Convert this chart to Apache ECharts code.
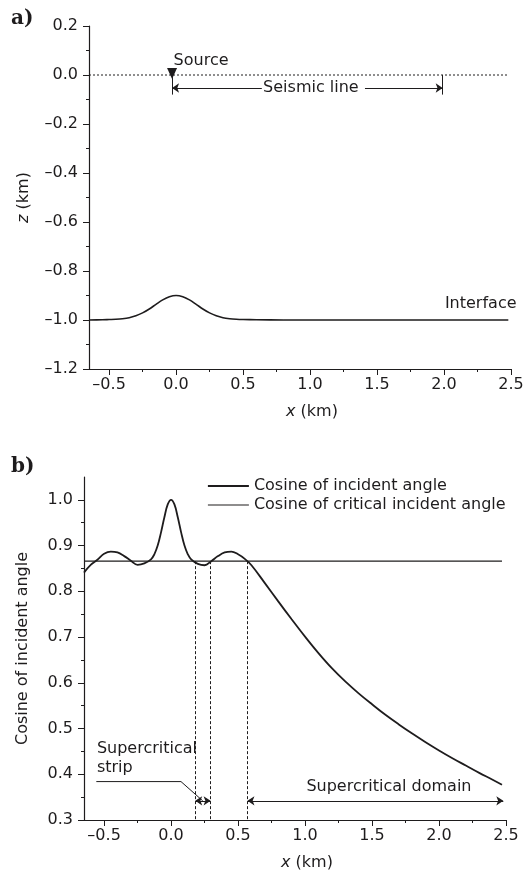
<!DOCTYPE html>
<html>
<head>
<meta charset="utf-8">
<script src="https://cdn.jsdelivr.net/npm/echarts@6/dist/echarts.min.js"></script>
<style>
  html, body { margin: 0; padding: 0; background: #fff; }
  #main { width: 532px; height: 876px; }
</style>
</head>
<body>
<div id="main"></div>
<script>
// ---------- shared horizontal axis (km) ----------
const xMin = -0.65;
const xMax = 2.5;
const xMajorTicks = [-0.5, 0, 0.5, 1.0, 1.5, 2.0, 2.5];
const xMinorTicks = [-0.25, 0.25, 0.75, 1.25, 1.75, 2.25];

// ---------- panel a: model geometry ----------
const zMajorTicks = [-1.2, -1.0, -0.8, -0.6, -0.4, -0.2, 0.0, 0.2];
const zMinorTicks = [-1.1, -0.9, -0.7, -0.5, -0.3, -0.1, 0.1];

const interfaceX = [-0.65, -0.55, -0.5, -0.45, -0.4, -0.35, -0.3, -0.25, -0.2, -0.15, -0.1, -0.05, 0.0,
                    0.05, 0.1, 0.15, 0.2, 0.25, 0.3, 0.35, 0.4, 0.45, 0.5, 0.6, 0.8, 1.2, 1.6, 2.0, 2.48];
const interfaceZ = [-1.0, -0.999, -0.998, -0.997, -0.995, -0.991, -0.983, -0.971, -0.955, -0.936, -0.918, -0.905, -0.900,
                    -0.905, -0.918, -0.936, -0.955, -0.971, -0.983, -0.991, -0.995, -0.997, -0.998, -0.999, -1.0, -1.0, -1.0, -1.0, -1.0];

const surfaceX = [-0.65, 2.48];
const surfaceZ = [0.0, 0.0];

const sourceX = -0.03;
const sourceMarkZ = 0.006;
const lineEndX = 1.99;
const barBottomZ = -0.08;
const spreadArrowZ = -0.053;
const spreadTextGap = [0.64, 1.41];

const labelsA = ['Source', 'Seismic line', 'Interface'];
const labelsAX = [-0.015, 1.01, 2.545];
const labelsAZ = [0.057, -0.053, -0.935];

// ---------- panel b: incidence along the line ----------
const cosMajorTicks = [0.3, 0.4, 0.5, 0.6, 0.7, 0.8, 0.9, 1.0];
const cosMinorTicks = [0.35, 0.45, 0.55, 0.65, 0.75, 0.85, 0.95];

const incidentX = [-0.65, -0.6, -0.55, -0.5, -0.45, -0.4, -0.35, -0.3, -0.25, -0.2, -0.15, -0.125, -0.1, -0.075, -0.05, -0.025, 0.0,
                   0.025, 0.05, 0.075, 0.1, 0.125, 0.15, 0.2, 0.25, 0.3, 0.35, 0.4, 0.45, 0.5, 0.55, 0.6, 0.7, 0.8, 0.9, 1.0,
                   1.1, 1.2, 1.3, 1.4, 1.5, 1.6, 1.7, 1.8, 1.9, 2.0, 2.1, 2.2, 2.3, 2.4, 2.47];
const incidentCos = [0.841, 0.858, 0.869, 0.882, 0.887, 0.885, 0.877, 0.867, 0.858, 0.861, 0.870, 0.881, 0.900, 0.929, 0.962, 0.990, 1.0,
                     0.990, 0.962, 0.929, 0.900, 0.881, 0.870, 0.860, 0.857, 0.866, 0.877, 0.885, 0.887, 0.881, 0.871, 0.857, 0.818, 0.778, 0.739, 0.701,
                     0.665, 0.632, 0.603, 0.577, 0.553, 0.530, 0.509, 0.489, 0.470, 0.452, 0.435, 0.419, 0.403, 0.388, 0.377];

const criticalX = [-0.65, 2.47];
const criticalCos = [0.866, 0.866];

const stripBounds = [0.18, 0.295];
const domainBounds = [0.57, 2.48];
const boundTopCos = 0.866;
const arrowCos = 0.342;
const leaderX = [-0.558, 0.074, 0.236];
const leaderCos = [0.384, 0.384, 0.342];

const labelsB = ['Supercritical', 'strip', 'Supercritical domain'];
const labelsBX = [-0.55, -0.55, 1.63];
const labelsBCos = [0.455, 0.412, 0.372];

// ---------- styling ----------
const FONT = 'DejaVu Sans';
const INK = '#1e1c1d';
const FS = 16;
const BOLD_W = 1.8;
const THIN_W = 1.1;

const zip = (xs, ys) => xs.map((x, i) => [x, ys[i]]);
const fmt = v => (v < -1e-9 ? '\u2013' : '') + Math.abs(v).toFixed(1);
const txt = { fontFamily: FONT, fontSize: FS, color: INK };

function mainX(grid, name) {
  return {
    type: 'value', gridIndex: grid, position: 'bottom', min: xMin, max: xMax,
    axisLine: { show: true, onZero: false, lineStyle: { color: INK, width: 1.2 } },
    axisTick: { show: true, length: 6, customValues: xMajorTicks, lineStyle: { color: INK, width: 1 } },
    axisLabel: Object.assign({ customValues: xMajorTicks, formatter: fmt, margin: 8 }, txt),
    splitLine: { show: false },
    name: name, nameLocation: 'middle', nameGap: 35,
    nameTextStyle: Object.assign({ padding: [0, 0, 0, 24],
      rich: { i: Object.assign({ fontStyle: 'italic' }, txt) } }, txt)
  };
}
function minorX(grid) {
  return {
    type: 'value', gridIndex: grid, position: 'bottom', min: xMin, max: xMax,
    axisLine: { show: false, onZero: false },
    axisTick: { show: true, length: 3, customValues: xMinorTicks, lineStyle: { color: INK, width: 1 } },
    axisLabel: { show: false }, splitLine: { show: false }
  };
}
function mainY(grid, min, max, major, name, gap) {
  return {
    type: 'value', gridIndex: grid, position: 'left', min: min, max: max,
    axisLine: { show: true, onZero: false, lineStyle: { color: INK, width: 1.2 } },
    axisTick: { show: true, length: 6, customValues: major, lineStyle: { color: INK, width: 1 } },
    axisLabel: Object.assign({ customValues: major, formatter: fmt, margin: 11 }, txt),
    splitLine: { show: false },
    name: name, nameLocation: 'middle', nameGap: gap, nameRotate: 90,
    nameTextStyle: Object.assign({ rich: { i: Object.assign({ fontStyle: 'italic' }, txt) } }, txt)
  };
}
function minorY(grid, min, max, minor) {
  return {
    type: 'value', gridIndex: grid, position: 'left', min: min, max: max,
    axisLine: { show: false, onZero: false },
    axisTick: { show: true, length: 3, customValues: minor, lineStyle: { color: INK, width: 1 } },
    axisLabel: { show: false }, splitLine: { show: false }
  };
}

const thin = { color: INK, width: 1, type: 'solid' };
function seg(x1, y1, x2, y2, s1, s2) {
  return [{ coord: [x1, y1], symbol: s1 || 'none' }, { coord: [x2, y2], symbol: s2 || 'none' }];
}
function textSeries(xi, yi, names, xs, ys, aligns) {
  return {
    type: 'scatter', xAxisIndex: xi, yAxisIndex: yi, symbolSize: 1, silent: true, clip: false,
    itemStyle: { color: 'rgba(0,0,0,0)', opacity: 1 },
    data: names.map((n, i) => ({
      value: [xs[i], ys[i]], name: n,
      label: { show: true, position: [0, 0], align: aligns[i], verticalAlign: 'middle',
               formatter: n, fontFamily: FONT, fontSize: FS, color: INK }
    }))
  };
}

const chart = echarts.init(document.getElementById('main'), null, { renderer: 'canvas' });
chart.setOption({
  animation: false,
  backgroundColor: '#ffffff',
  grid: [
    { left: 89, top: 26, width: 422, height: 343 },
    { left: 84, top: 477, width: 422, height: 343 }
  ],
  xAxis: [mainX(0, '{i|x} (km)'), minorX(0), mainX(1, '{i|x} (km)'), minorX(1)],
  yAxis: [
    mainY(0, -1.2, 0.2, zMajorTicks, '{i|z} (km)', 57), minorY(0, -1.2, 0.2, zMinorTicks),
    mainY(1, 0.3, 1.05, cosMajorTicks, 'Cosine of incident angle', 53), minorY(1, 0.3, 1.05, cosMinorTicks)
  ],
  legend: {
    left: 202, top: 473, orient: 'vertical', itemWidth: 41, itemHeight: 12, itemGap: 3,
    selectedMode: false, textStyle: txt,
    itemStyle: { opacity: 0, borderWidth: 0 },
    data: [
      { name: 'Cosine of incident angle', lineStyle: { width: BOLD_W, color: INK } },
      { name: 'Cosine of critical incident angle', lineStyle: { width: THIN_W, color: INK } }
    ]
  },
  graphic: [
    { type: 'text', left: 11, top: 9, style: { text: 'a)', font: 'bold 20px "DejaVu Serif"', fill: INK } },
    { type: 'text', left: 11, top: 457, style: { text: 'b)', font: 'bold 20px "DejaVu Serif"', fill: INK } }
  ],
  series: [
    // panel a
    { name: 'Interface', type: 'line', xAxisIndex: 0, yAxisIndex: 0, data: zip(interfaceX, interfaceZ),
      symbol: 'none', smooth: 0.3, lineStyle: { color: INK, width: 1.6 } },
    { name: 'Surface', type: 'line', xAxisIndex: 0, yAxisIndex: 0, data: zip(surfaceX, surfaceZ),
      symbol: 'none', lineStyle: { color: INK, width: 1, type: [2, 2] } },
    { name: 'Seismic line', type: 'line', xAxisIndex: 0, yAxisIndex: 0, data: [],
      markLine: { silent: true, animation: false, symbolSize: 7, label: { show: false }, lineStyle: thin,
        data: [
          seg(sourceX, 0, sourceX, barBottomZ),
          seg(lineEndX, 0, lineEndX, barBottomZ),
          seg(spreadTextGap[0], spreadArrowZ, sourceX, spreadArrowZ, 'none', 'arrow'),
          seg(spreadTextGap[1], spreadArrowZ, lineEndX, spreadArrowZ, 'none', 'arrow')
        ] } },
    { name: 'Source', type: 'scatter', xAxisIndex: 0, yAxisIndex: 0, data: [[sourceX, sourceMarkZ]],
      symbol: 'triangle', symbolRotate: 180, symbolSize: [10, 11],
      itemStyle: { color: INK, opacity: 1 }, silent: true },
    textSeries(0, 0, labelsA, labelsAX, labelsAZ, ['left', 'center', 'right']),

    // panel b
    { name: 'Cosine of incident angle', type: 'line', xAxisIndex: 2, yAxisIndex: 2,
      data: zip(incidentX, incidentCos), symbol: 'none', smooth: 0.4,
      lineStyle: { color: INK, width: BOLD_W }, itemStyle: { color: INK } },
    { name: 'Cosine of critical incident angle', type: 'line', xAxisIndex: 2, yAxisIndex: 2,
      data: zip(criticalX, criticalCos), symbol: 'none',
      lineStyle: { color: INK, width: THIN_W }, itemStyle: { color: INK } },
    { name: 'Bounds', type: 'line', xAxisIndex: 2, yAxisIndex: 2, data: [],
      markLine: { silent: true, animation: false, symbolSize: 7, label: { show: false },
        lineStyle: { color: INK, width: 1, type: [3, 2] },
        data: [
          seg(stripBounds[0], boundTopCos, stripBounds[0], 0.3),
          seg(stripBounds[1], boundTopCos, stripBounds[1], 0.3),
          seg(domainBounds[0], boundTopCos, domainBounds[0], 0.3)
        ] } },
    { name: 'Arrows', type: 'line', xAxisIndex: 2, yAxisIndex: 2, data: [],
      markLine: { silent: true, animation: false, symbolSize: 7, label: { show: false }, lineStyle: thin,
        data: [
          seg(stripBounds[0], arrowCos, stripBounds[1], arrowCos, 'arrow', 'arrow'),
          seg(domainBounds[0], arrowCos, domainBounds[1], arrowCos, 'arrow', 'arrow')
        ] } },
    { name: 'Leader', type: 'line', xAxisIndex: 2, yAxisIndex: 2, data: zip(leaderX, leaderCos),
      symbol: 'none', lineStyle: { color: INK, width: 1 } },
    textSeries(2, 2, labelsB, labelsBX, labelsBCos, ['left', 'left', 'center'])
  ]
});
</script>
</body>
</html>
